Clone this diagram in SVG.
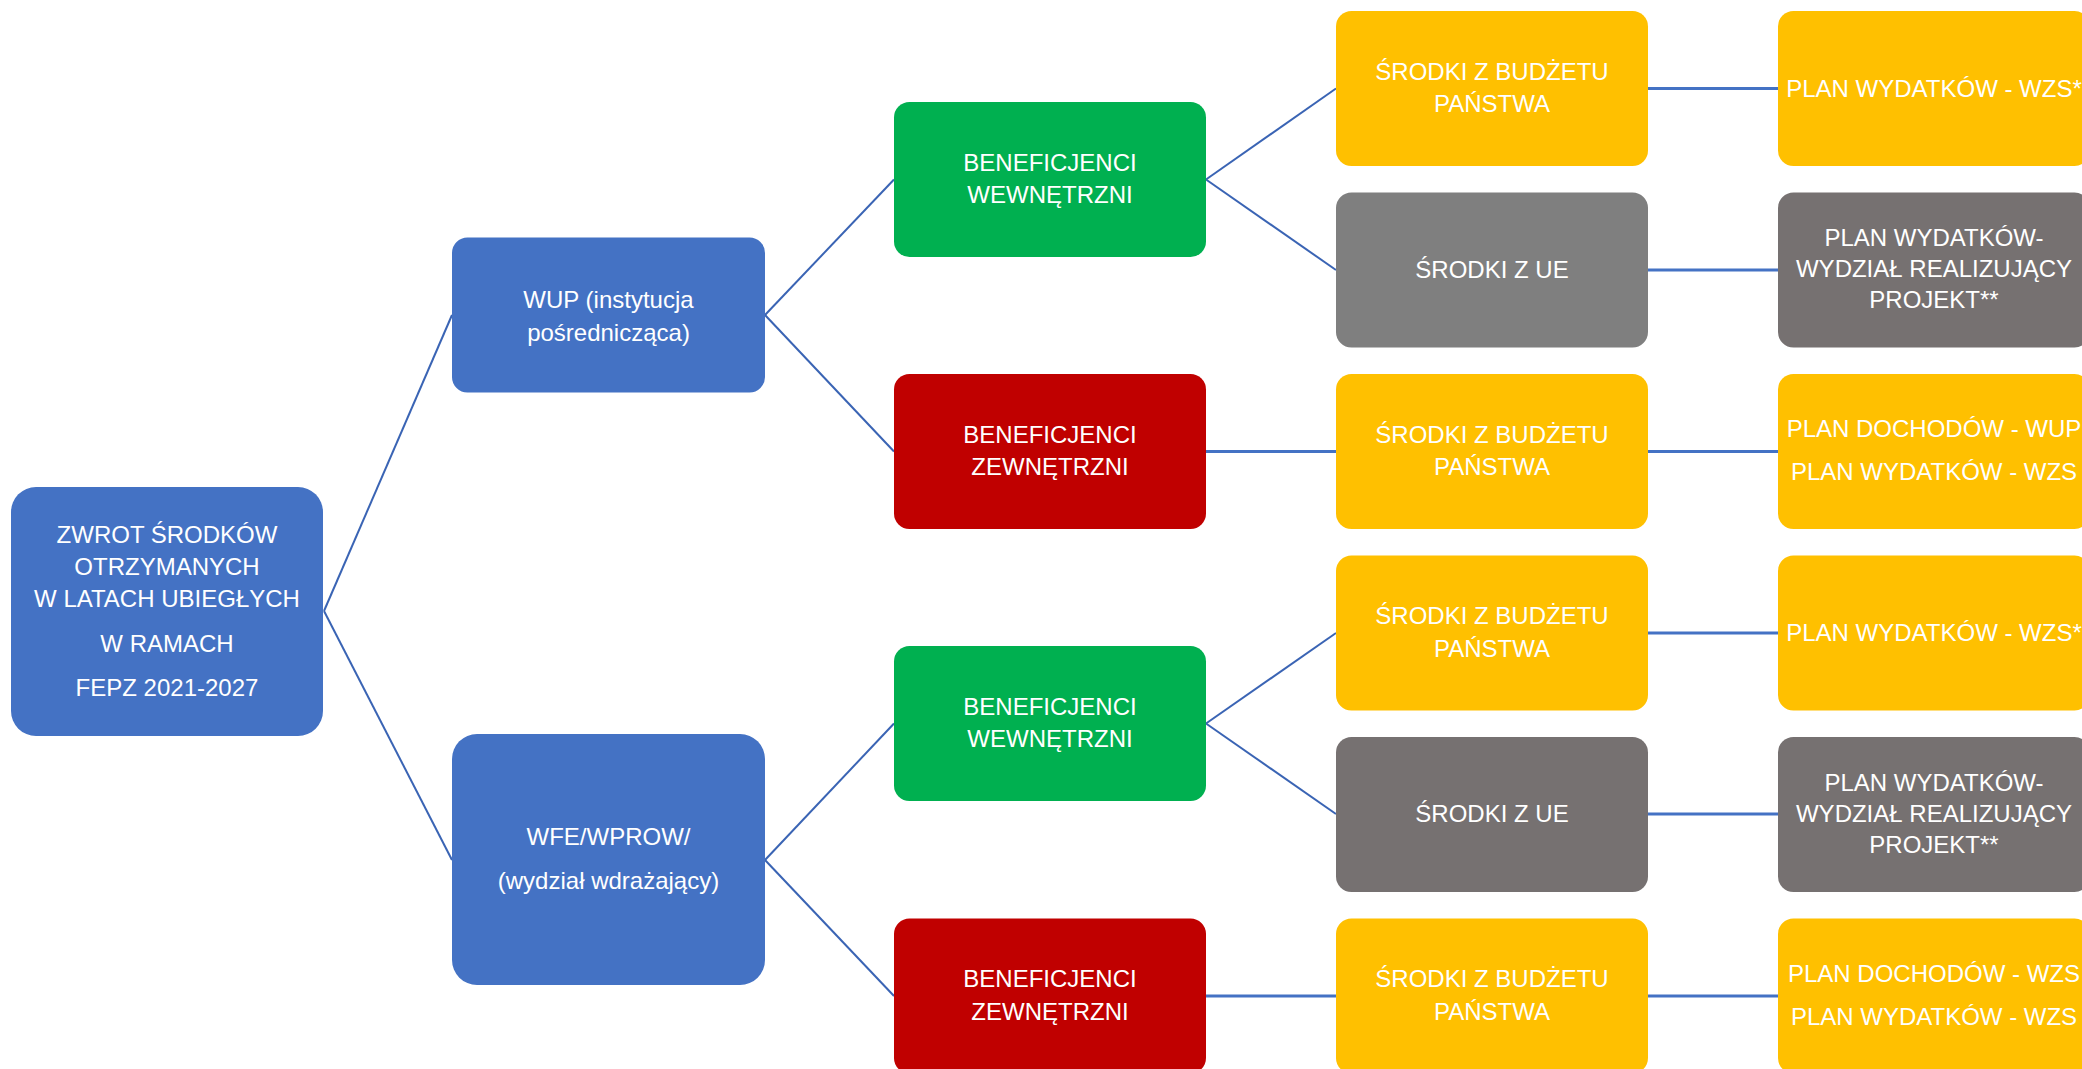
<svg xmlns="http://www.w3.org/2000/svg" width="2082" height="1069" viewBox="0 0 2082 1069">
<style>
text{font-family:"Liberation Sans",Arial,sans-serif;font-size:24px;fill:#ffffff;text-anchor:middle}
.blue{fill:#4472C4}
.green{fill:#00B050}
.red{fill:#C00000}
.yellow{fill:#FFC000}
.gray{fill:#7F7F7F}
.dgray{fill:#767171}
.diag{stroke:#3A64B4;stroke-width:2;fill:none}
.hor{stroke:#4472C4;stroke-width:3;fill:none}
</style>
<rect width="2082" height="1069" fill="#ffffff"/>
<g id="connectors">
<line class="diag" x1="324" y1="611" x2="452" y2="315"/>
<line class="diag" x1="324" y1="611" x2="452" y2="860"/>
<line class="diag" x1="765" y1="315" x2="894" y2="179.5"/>
<line class="diag" x1="765" y1="315" x2="894" y2="451.5"/>
<line class="diag" x1="765" y1="860" x2="894" y2="723.5"/>
<line class="diag" x1="765" y1="860" x2="894" y2="996"/>
<line class="diag" x1="1206" y1="179.5" x2="1336" y2="88.5"/>
<line class="diag" x1="1206" y1="179.5" x2="1336" y2="270"/>
<line class="diag" x1="1206" y1="723.5" x2="1336" y2="633"/>
<line class="diag" x1="1206" y1="723.5" x2="1336" y2="814"/>
<line class="hor" x1="1206" y1="451.5" x2="1336" y2="451.5"/>
<line class="hor" x1="1206" y1="996" x2="1336" y2="996"/>
<line class="hor" x1="1648" y1="88.5" x2="1778" y2="88.5"/>
<line class="hor" x1="1648" y1="270" x2="1778" y2="270"/>
<line class="hor" x1="1648" y1="451.5" x2="1778" y2="451.5"/>
<line class="hor" x1="1648" y1="633" x2="1778" y2="633"/>
<line class="hor" x1="1648" y1="814" x2="1778" y2="814"/>
<line class="hor" x1="1648" y1="996" x2="1778" y2="996"/>
</g>
<g id="root">
<rect class="blue" x="11" y="487" width="312" height="249" rx="25"/>
<text x="167" y="543">ZWROT ŚRODKÓW</text>
<text x="167" y="575">OTRZYMANYCH</text>
<text x="167" y="607">W LATACH UBIEGŁYCH</text>
<text x="167" y="651.5">W RAMACH</text>
<text x="167" y="696">FEPZ 2021-2027</text>
</g>
<g id="wup">
<rect class="blue" x="452" y="237.5" width="313" height="155" rx="15.5"/>
<text x="608.5" y="308">WUP (instytucja</text>
<text x="608.5" y="341">pośrednicząca)</text>
</g>
<g id="wfe">
<rect class="blue" x="452" y="734" width="313" height="251" rx="25"/>
<text x="608.5" y="845">WFE/WPROW/</text>
<text x="608.5" y="889">(wydział wdrażający)</text>
</g>
<g id="ben-wew-1">
<rect class="green" x="894" y="102" width="312" height="155" rx="15.5"/>
<text x="1050" y="171">BENEFICJENCI</text>
<text x="1050" y="203">WEWNĘTRZNI</text>
</g>
<g id="ben-zew-1">
<rect class="red" x="894" y="374" width="312" height="155" rx="15.5"/>
<text x="1050" y="442.5">BENEFICJENCI</text>
<text x="1050" y="475">ZEWNĘTRZNI</text>
</g>
<g id="ben-wew-2">
<rect class="green" x="894" y="646" width="312" height="155" rx="15.5"/>
<text x="1050" y="714.5">BENEFICJENCI</text>
<text x="1050" y="747">WEWNĘTRZNI</text>
</g>
<g id="ben-zew-2">
<rect class="red" x="894" y="918.5" width="312" height="155" rx="15.5"/>
<text x="1050" y="987">BENEFICJENCI</text>
<text x="1050" y="1019.5">ZEWNĘTRZNI</text>
</g>
<g id="srodki-bp-1">
<rect class="yellow" x="1336" y="11" width="312" height="155" rx="15.5"/>
<text x="1492" y="80">ŚRODKI Z BUDŻETU</text>
<text x="1492" y="112">PAŃSTWA</text>
</g>
<g id="srodki-ue-1">
<rect class="gray" x="1336" y="192.5" width="312" height="155" rx="15.5"/>
<text x="1492" y="277.5">ŚRODKI Z UE</text>
</g>
<g id="srodki-bp-2">
<rect class="yellow" x="1336" y="374" width="312" height="155" rx="15.5"/>
<text x="1492" y="442.5">ŚRODKI Z BUDŻETU</text>
<text x="1492" y="475">PAŃSTWA</text>
</g>
<g id="srodki-bp-3">
<rect class="yellow" x="1336" y="555.5" width="312" height="155" rx="15.5"/>
<text x="1492" y="624">ŚRODKI Z BUDŻETU</text>
<text x="1492" y="656.5">PAŃSTWA</text>
</g>
<g id="srodki-ue-2">
<rect class="dgray" x="1336" y="737" width="312" height="155" rx="15.5"/>
<text x="1492" y="821.5">ŚRODKI Z UE</text>
</g>
<g id="srodki-bp-4">
<rect class="yellow" x="1336" y="918.5" width="312" height="155" rx="15.5"/>
<text x="1492" y="987">ŚRODKI Z BUDŻETU</text>
<text x="1492" y="1019.5">PAŃSTWA</text>
</g>
<g id="plan-1">
<rect class="yellow" x="1778" y="11" width="312" height="155" rx="15.5"/>
<text x="1934" y="96.5">PLAN WYDATKÓW - WZS*</text>
</g>
<g id="plan-2">
<rect class="dgray" x="1778" y="192.5" width="312" height="155" rx="15.5"/>
<text x="1934" y="246">PLAN WYDATKÓW-</text>
<text x="1934" y="277">WYDZIAŁ REALIZUJĄCY</text>
<text x="1934" y="308">PROJEKT**</text>
</g>
<g id="plan-3">
<rect class="yellow" x="1778" y="374" width="312" height="155" rx="15.5"/>
<text x="1934" y="437">PLAN DOCHODÓW - WUP</text>
<text x="1934" y="480">PLAN WYDATKÓW - WZS</text>
</g>
<g id="plan-4">
<rect class="yellow" x="1778" y="555.5" width="312" height="155" rx="15.5"/>
<text x="1934" y="641">PLAN WYDATKÓW - WZS*</text>
</g>
<g id="plan-5">
<rect class="dgray" x="1778" y="737" width="312" height="155" rx="15.5"/>
<text x="1934" y="790.5">PLAN WYDATKÓW-</text>
<text x="1934" y="821.5">WYDZIAŁ REALIZUJĄCY</text>
<text x="1934" y="852.5">PROJEKT**</text>
</g>
<g id="plan-6">
<rect class="yellow" x="1778" y="918.5" width="312" height="155" rx="15.5"/>
<text x="1934" y="981.5">PLAN DOCHODÓW - WZS</text>
<text x="1934" y="1024.5">PLAN WYDATKÓW - WZS</text>
</g>
</svg>
